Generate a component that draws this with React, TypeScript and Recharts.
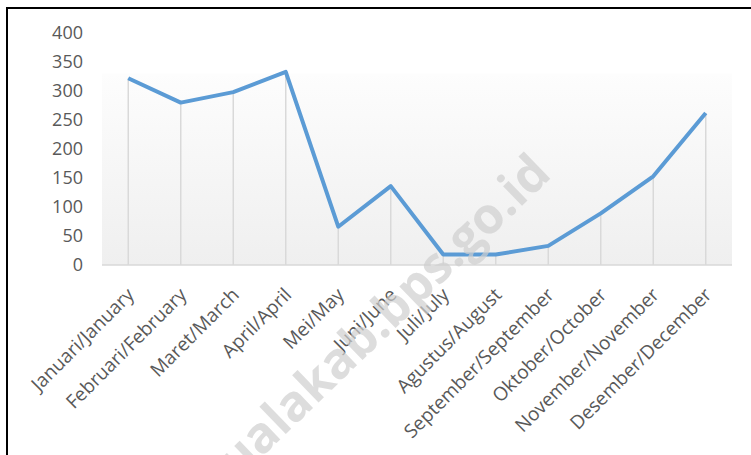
import { Bar, ComposedChart, Line, ReferenceArea, XAxis, YAxis } from 'recharts';

const MONTHS = [
  'Januari/January',
  'Februari/February',
  'Maret/March',
  'April/April',
  'Mei/May',
  'Juni/June',
  'Juli/July',
  'Agustus/August',
  'September/September',
  'Oktober/October',
  'November/November',
  'Desember/December',
];

const VALUES = [322, 280, 298, 333, 66, 136, 18, 18, 33, 89, 153, 262];

const Y_TICKS = [0, 50, 100, 150, 200, 250, 300, 350, 400];

const data = MONTHS.map((month, i) => ({ month, value: VALUES[i] }));

const TEXT_COLOR = '#595959';
const FONT = '"Open Sans", sans-serif';

function MonthTick({ x, y, payload }: any) {
  return (
    <text
      transform={`translate(${x + 7},${y + 31}) rotate(-45)`}
      textAnchor="end"
      fill={TEXT_COLOR}
      fontSize={19}
      fontFamily={FONT}
    >
      {payload.value}
    </text>
  );
}

// thin vertical line from the point down to the axis
function DropLine({ x, y, width, height }: any) {
  const cx = x + width / 2;
  return (
    <line x1={cx} y1={y} x2={cx} y2={y + height} stroke="#d9d9d9" strokeWidth={1.5} />
  );
}

export default function App() {
  return (
    <div
      style={{
        position: 'absolute',
        left: 0,
        top: 0,
        width: 751,
        height: 455,
        overflow: 'hidden',
        background: '#fff',
      }}
    >
      <ComposedChart
        width={751}
        height={455}
        data={data}
        margin={{ top: 33, right: 19, bottom: 0, left: 0 }}
      >
        <defs>
          <linearGradient id="plotFill" x1="0" y1="0" x2="0" y2="1">
            <stop offset="0%" stopColor="#fdfdfd" />
            <stop offset="100%" stopColor="#efefef" />
          </linearGradient>
        </defs>
        <ReferenceArea y1={0} y2={330} fill="url(#plotFill)" fillOpacity={1} stroke="none" />
        <XAxis
          dataKey="month"
          interval={0}
          height={190}
          tickLine={false}
          tickSize={0}
          tickMargin={0}
          axisLine={{ stroke: '#d9d9d9', strokeWidth: 1.5 }}
          tick={<MonthTick />}
        />
        <YAxis
          domain={[0, 400]}
          ticks={Y_TICKS}
          width={102}
          axisLine={false}
          tickLine={false}
          tickSize={0}
          tickMargin={19}
          tick={{ fill: TEXT_COLOR, fontSize: 18, fontFamily: FONT }}
        />
        <Bar dataKey="value" shape={<DropLine />} isAnimationActive={false} />
        <Line
          dataKey="value"
          stroke="#5b9bd5"
          strokeWidth={4}
          dot={false}
          activeDot={false}
          strokeLinejoin="round"
          isAnimationActive={false}
        />
      </ComposedChart>
      <svg
        width={751}
        height={455}
        style={{ position: 'absolute', left: 0, top: 0, pointerEvents: 'none' }}
      >
        <text
          transform="translate(553,176) rotate(-44)"
          textAnchor="end"
          fill="#cfcfcf"
          fillOpacity={0.7}
          fontSize={50}
          fontWeight={700}
          fontFamily={FONT}
        >
          ualakab.bps.go.id
        </text>
      </svg>
      <div style={{ position: 'absolute', left: 6, top: 7, right: 0, height: 2, background: '#000' }} />
      <div style={{ position: 'absolute', left: 6, top: 7, width: 2, bottom: 0, background: '#000' }} />
    </div>
  );
}
